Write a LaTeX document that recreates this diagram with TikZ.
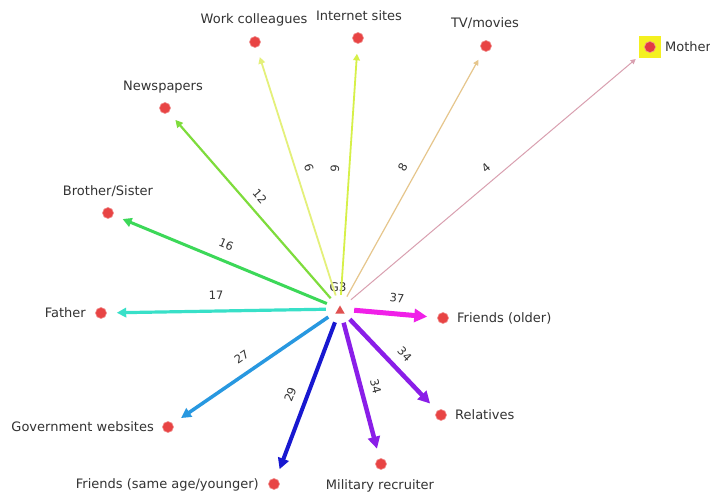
\documentclass[tikz,border=0pt]{standalone}
\usepackage{fontspec}
\setmainfont{DejaVu Sans}
\usetikzlibrary{arrows.meta,shapes.geometric}

\definecolor{dotred}{HTML}{E84444}
\definecolor{trired}{HTML}{E05050}
\definecolor{txt}{HTML}{333333}
\definecolor{hl}{HTML}{F4F020}
\definecolor{cMother}{HTML}{D9A0B0}
\definecolor{cTV}{HTML}{E6C68C}
\definecolor{cNet}{HTML}{D6F048}
\definecolor{cWork}{HTML}{E4F07A}
\definecolor{cNews}{HTML}{7EDC3C}
\definecolor{cSib}{HTML}{3CD858}
\definecolor{cFather}{HTML}{38E0C8}
\definecolor{cGov}{HTML}{2898E0}
\definecolor{cFSame}{HTML}{1818D0}
\definecolor{cMil}{HTML}{8A1EE8}
\definecolor{cFOld}{HTML}{F020E8}

\tikzset{
  dot/.style={circle, fill=dotred, draw=dotred!60, line width=0.6pt,
              minimum size=11pt, inner sep=0pt},
  lbl/.style={text=txt, inner sep=0pt, font=\fontsize{13}{15}\selectfont},
  num/.style={text=txt, inner sep=0pt, font=\fontsize{11.5}{13}\selectfont,
              pos=0.5, sloped},
  edge/.style n args={2}{draw=#2, line width=#1, shorten >=10pt,
              -{Triangle[length=3pt 2, width=3pt 2]}},
}

\begin{document}
\begin{tikzpicture}[x=1pt, y=-1pt]
  \useasboundingbox (0,0) rectangle (710,497);
  \fill[white] (0,0) rectangle (710,497);

  % hub
  \node[circle, minimum size=28pt, inner sep=0pt] (g3) at (340,309) {};
  \node[regular polygon, regular polygon sides=3, fill=trired,
        minimum size=11pt, inner sep=0pt] (g3mark) at (340,311) {};
  \node[lbl, font=\fontsize{12}{14}\selectfont] (g3lbl) at (338,287) {G3};

  % sources
  \node[rectangle, fill=hl, minimum size=22pt, inner sep=0pt] (mother) at (650,47) {};
  \node[dot, fill=dotred!85!purple] (motherdot) at (650,47) {};
  \node[dot] (tv) at (486,46) {};
  \node[dot] (net) at (358,38) {};
  \node[dot] (work) at (255,42) {};
  \node[dot] (news) at (165,108) {};
  \node[dot] (sib) at (108,213) {};
  \node[dot] (father) at (101,313) {};
  \node[dot] (gov) at (168,427) {};
  \node[dot] (fsame) at (274,484) {};
  \node[dot] (mil) at (381,464) {};
  \node[dot] (rel) at (441,415) {};
  \node[dot] (fold) at (443,318) {};

  % their names
  \node[lbl, anchor=west] (motherlbl) at (665,47) {Mother};
  \node[lbl] (tvlbl) at (485,23) {TV/movies};
  \node[lbl] (netlbl) at (359,16) {Internet sites};
  \node[lbl] (worklbl) at (254,20) {Work colleagues};
  \node[lbl] (newslbl) at (163,87) {Newspapers};
  \node[lbl] (siblbl) at (108,191) {Brother/Sister};
  \node[lbl, anchor=east] (fatherlbl) at (86,313) {Father};
  \node[lbl, anchor=east] (govlbl) at (154,427) {Government websites};
  \node[lbl, anchor=east] (fsamelbl) at (259,485) {Friends (same age/younger)};
  \node[lbl] (millbl) at (380,486) {Military recruiter};
  \node[lbl, anchor=west] (rellbl) at (455,415) {Relatives};
  \node[lbl, anchor=west] (foldlbl) at (457,318) {Friends (older)};

  % weighted links from the hub
  \draw[edge={1pt}{cMother}, shorten >=4pt] (g3) -- node[num, above=9pt] {4} (mother);
  \draw[edge={1.2pt}{cTV}] (g3) -- node[num, above=9pt] {8} (tv);
  \draw[edge={1.8pt}{cNet}] (g3) -- node[num, above=9pt] {9} (net);
  \draw[edge={1.8pt}{cWork}] (g3) -- node[num, above=8pt] {6} (work);
  \draw[edge={2.2pt}{cNews}] (g3) -- node[num, above=8pt] {12} (news);
  \draw[edge={3pt}{cSib}] (g3) -- node[num, above=10pt] {16} (sib);
  \draw[edge={3.2pt}{cFather}] (g3) -- node[num, above=10pt] {17} (father);
  \draw[edge={3.5pt}{cGov}] (g3) -- node[num, above=10pt] {27} (gov);
  \draw[edge={4pt}{cFSame}] (g3) -- node[num, above=10pt] {29} (fsame);
  \draw[edge={4.5pt}{cMil}] (g3) -- node[num, above=8pt] {34} (mil);
  \draw[edge={4.5pt}{cMil}] (g3) -- node[num, above=9pt] {34} (rel);
  \draw[edge={5pt}{cFOld}] (g3) -- node[num, above=9pt] {37} (fold);
\end{tikzpicture}
\end{document}
